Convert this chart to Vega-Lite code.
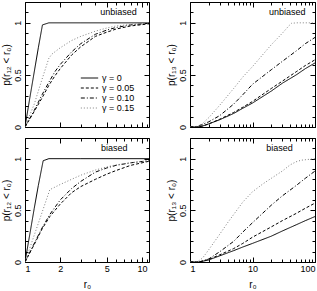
{
  "$schema": "https://vega.github.io/schema/vega-lite/v6.json",
  "padding": {"left": 0, "top": 1, "right": 1, "bottom": 0},
  "background": "white",
  "config": {
    "font": "Liberation Sans",
    "view": {"stroke": "black", "strokeWidth": 1},
    "axis": {"domain": false, "grid": false, "labelFont": "Liberation Sans", "labelFontSize": 9, "labelColor": "black", "titleFont": "Liberation Sans", "titleFontSize": 10, "titleFontWeight": "normal", "titleColor": "black", "tickColor": "black", "tickWidth": 1, "labelPadding": 7, "titlePadding": 6},
    "axisLeft": {"labelPadding": 8, "titlePadding": 2},
    "legend": {"symbolType": "stroke", "symbolSize": 300, "symbolStrokeWidth": 1, "labelFont": "Liberation Sans", "labelFontSize": 9, "labelColor": "black", "rowPadding": 0, "clipHeight": 10, "labelOffset": 3, "title": null}
  },
  "datasets": {
    "tl": [
      {"g":"0","r":1,"p":0},{"g":"0","r":1.1,"p":0.28},{"g":"0","r":1.2,"p":0.53},{"g":"0","r":1.3,"p":0.76},{"g":"0","r":1.41,"p":0.98},{"g":"0","r":1.6,"p":1},{"g":"0","r":3,"p":1},{"g":"0","r":11.5,"p":1},
      {"g":"0.05","r":1,"p":0},{"g":"0.05","r":1.2,"p":0.15},{"g":"0.05","r":1.4,"p":0.28},{"g":"0.05","r":1.6,"p":0.4},{"g":"0.05","r":1.8,"p":0.49},{"g":"0.05","r":2,"p":0.56},{"g":"0.05","r":2.5,"p":0.69},{"g":"0.05","r":3,"p":0.77},{"g":"0.05","r":4,"p":0.87},{"g":"0.05","r":5,"p":0.91},{"g":"0.05","r":6,"p":0.94},{"g":"0.05","r":8,"p":0.97},{"g":"0.05","r":11.5,"p":0.99},
      {"g":"0.10","r":1,"p":0},{"g":"0.10","r":1.2,"p":0.16},{"g":"0.10","r":1.4,"p":0.31},{"g":"0.10","r":1.6,"p":0.43},{"g":"0.10","r":1.8,"p":0.53},{"g":"0.10","r":2,"p":0.6},{"g":"0.10","r":2.5,"p":0.72},{"g":"0.10","r":3,"p":0.8},{"g":"0.10","r":4,"p":0.89},{"g":"0.10","r":5,"p":0.93},{"g":"0.10","r":6,"p":0.955},{"g":"0.10","r":8,"p":0.98},{"g":"0.10","r":11.5,"p":0.995},
      {"g":"0.15","r":1,"p":0},{"g":"0.15","r":1.2,"p":0.22},{"g":"0.15","r":1.4,"p":0.46},{"g":"0.15","r":1.6,"p":0.66},{"g":"0.15","r":1.7,"p":0.7},{"g":"0.15","r":2,"p":0.76},{"g":"0.15","r":2.5,"p":0.83},{"g":"0.15","r":3,"p":0.87},{"g":"0.15","r":4,"p":0.92},{"g":"0.15","r":5,"p":0.95},{"g":"0.15","r":6,"p":0.97},{"g":"0.15","r":8,"p":0.985},{"g":"0.15","r":11.5,"p":1}
    ],
    "bl": [
      {"g":"0","r":1,"p":0},{"g":"0","r":1.1,"p":0.27},{"g":"0","r":1.2,"p":0.52},{"g":"0","r":1.3,"p":0.74},{"g":"0","r":1.43,"p":0.98},{"g":"0","r":1.6,"p":1},{"g":"0","r":3,"p":1},{"g":"0","r":11.5,"p":1},
      {"g":"0.05","r":1,"p":0},{"g":"0.05","r":1.2,"p":0.17},{"g":"0.05","r":1.4,"p":0.32},{"g":"0.05","r":1.63,"p":0.44},{"g":"0.05","r":2,"p":0.56},{"g":"0.05","r":2.5,"p":0.67},{"g":"0.05","r":3,"p":0.73},{"g":"0.05","r":4,"p":0.8},{"g":"0.05","r":5,"p":0.85},{"g":"0.05","r":6,"p":0.885},{"g":"0.05","r":8,"p":0.935},{"g":"0.05","r":11.5,"p":0.975},
      {"g":"0.10","r":1,"p":0},{"g":"0.10","r":1.2,"p":0.18},{"g":"0.10","r":1.4,"p":0.33},{"g":"0.10","r":1.63,"p":0.46},{"g":"0.10","r":2,"p":0.6},{"g":"0.10","r":2.5,"p":0.71},{"g":"0.10","r":3,"p":0.78},{"g":"0.10","r":4,"p":0.87},{"g":"0.10","r":5,"p":0.91},{"g":"0.10","r":6,"p":0.935},{"g":"0.10","r":8,"p":0.96},{"g":"0.10","r":11.5,"p":0.98},
      {"g":"0.15","r":1,"p":0},{"g":"0.15","r":1.2,"p":0.26},{"g":"0.15","r":1.4,"p":0.48},{"g":"0.15","r":1.63,"p":0.7},{"g":"0.15","r":2,"p":0.75},{"g":"0.15","r":2.5,"p":0.8},{"g":"0.15","r":3,"p":0.84},{"g":"0.15","r":4,"p":0.89},{"g":"0.15","r":5,"p":0.92},{"g":"0.15","r":6,"p":0.94},{"g":"0.15","r":8,"p":0.96},{"g":"0.15","r":11.5,"p":0.98}
    ],
    "tr": [
      {"g":"0","r":1,"p":0},{"g":"0","r":1.3,"p":0},{"g":"0","r":1.6,"p":0.01},{"g":"0","r":2,"p":0.03},{"g":"0","r":3,"p":0.07},{"g":"0","r":5,"p":0.13},{"g":"0","r":7,"p":0.18},{"g":"0","r":10,"p":0.23},{"g":"0","r":20,"p":0.345},{"g":"0","r":30,"p":0.42},{"g":"0","r":50,"p":0.5},{"g":"0","r":70,"p":0.56},{"g":"0","r":100,"p":0.615},
      {"g":"0.05","r":1,"p":0},{"g":"0.05","r":1.3,"p":0},{"g":"0.05","r":1.6,"p":0.01},{"g":"0.05","r":2,"p":0.03},{"g":"0.05","r":3,"p":0.075},{"g":"0.05","r":5,"p":0.14},{"g":"0.05","r":7,"p":0.19},{"g":"0.05","r":10,"p":0.245},{"g":"0.05","r":20,"p":0.37},{"g":"0.05","r":30,"p":0.44},{"g":"0.05","r":50,"p":0.53},{"g":"0.05","r":70,"p":0.59},{"g":"0.05","r":100,"p":0.645},
      {"g":"0.10","r":1,"p":0},{"g":"0.10","r":1.2,"p":0},{"g":"0.10","r":1.5,"p":0.02},{"g":"0.10","r":2,"p":0.05},{"g":"0.10","r":3,"p":0.11},{"g":"0.10","r":5,"p":0.22},{"g":"0.10","r":7,"p":0.31},{"g":"0.10","r":10,"p":0.41},{"g":"0.10","r":20,"p":0.55},{"g":"0.10","r":30,"p":0.63},{"g":"0.10","r":50,"p":0.73},{"g":"0.10","r":70,"p":0.8},{"g":"0.10","r":100,"p":0.86},
      {"g":"0.15","r":1,"p":0},{"g":"0.15","r":1.3,"p":0},{"g":"0.15","r":1.5,"p":0.02},{"g":"0.15","r":2,"p":0.09},{"g":"0.15","r":3,"p":0.21},{"g":"0.15","r":5,"p":0.37},{"g":"0.15","r":7,"p":0.48},{"g":"0.15","r":10,"p":0.58},{"g":"0.15","r":20,"p":0.79},{"g":"0.15","r":30,"p":0.9},{"g":"0.15","r":38,"p":0.97},{"g":"0.15","r":42,"p":0.995},{"g":"0.15","r":50,"p":1},{"g":"0.15","r":100,"p":1}
    ],
    "br": [
      {"g":"0","r":1,"p":0},{"g":"0","r":1.4,"p":0},{"g":"0","r":2,"p":0.02},{"g":"0","r":3,"p":0.06},{"g":"0","r":5,"p":0.11},{"g":"0","r":7,"p":0.145},{"g":"0","r":10,"p":0.18},{"g":"0","r":20,"p":0.25},{"g":"0","r":30,"p":0.3},{"g":"0","r":50,"p":0.36},{"g":"0","r":70,"p":0.4},{"g":"0","r":100,"p":0.44},
      {"g":"0.05","r":1,"p":0},{"g":"0.05","r":1.4,"p":0},{"g":"0.05","r":2,"p":0.025},{"g":"0.05","r":3,"p":0.07},{"g":"0.05","r":5,"p":0.13},{"g":"0.05","r":7,"p":0.18},{"g":"0.05","r":10,"p":0.24},{"g":"0.05","r":20,"p":0.34},{"g":"0.05","r":30,"p":0.4},{"g":"0.05","r":50,"p":0.47},{"g":"0.05","r":70,"p":0.52},{"g":"0.05","r":100,"p":0.57},
      {"g":"0.10","r":1,"p":0},{"g":"0.10","r":1.4,"p":0},{"g":"0.10","r":2,"p":0.03},{"g":"0.10","r":3,"p":0.1},{"g":"0.10","r":5,"p":0.2},{"g":"0.10","r":7,"p":0.29},{"g":"0.10","r":10,"p":0.38},{"g":"0.10","r":20,"p":0.55},{"g":"0.10","r":30,"p":0.64},{"g":"0.10","r":50,"p":0.74},{"g":"0.10","r":70,"p":0.81},{"g":"0.10","r":100,"p":0.88},
      {"g":"0.15","r":1,"p":0},{"g":"0.15","r":1.3,"p":0},{"g":"0.15","r":1.6,"p":0.04},{"g":"0.15","r":2,"p":0.12},{"g":"0.15","r":3,"p":0.27},{"g":"0.15","r":4,"p":0.38},{"g":"0.15","r":5,"p":0.46},{"g":"0.15","r":7,"p":0.58},{"g":"0.15","r":10,"p":0.68},{"g":"0.15","r":15,"p":0.76},{"g":"0.15","r":20,"p":0.81},{"g":"0.15","r":30,"p":0.88},{"g":"0.15","r":40,"p":0.94},{"g":"0.15","r":50,"p":0.97},{"g":"0.15","r":60,"p":0.985},{"g":"0.15","r":100,"p":1}
    ]
  },
  "columns": 2,
  "spacing": {"row": 6, "column": 15},
  "resolve": {"scale": {"color": "independent", "strokeDash": "independent"}},
  "concat": [
    {
      "width": 124, "height": 125,
      "layer": [
        {
          "data": {"name": "tl"},
          "mark": {"type": "line", "strokeWidth": 1, "clip": true},
          "encoding": {
            "x": {"field": "r", "type": "quantitative", "scale": {"type": "log", "domain": [1, 11.5], "nice": false},
              "axis": {"orient": "bottom", "values": [1,2,3,4,5,6,7,8,9,10,11], "labels": false, "title": null,
                "tickSize": {"condition": {"test": "datum.value==1||datum.value==2||datum.value==5||datum.value==10", "value": -5}, "value": -3}}},
            "y": {"field": "p", "type": "quantitative", "scale": {"domain": [0, 1.2], "nice": false},
              "axis": {"orient": "left", "values": [0,0.1,0.2,0.3,0.4,0.5,0.6,0.7,0.8,0.9,1,1.1,1.2], "labelAngle": -90,
                "labelExpr": "datum.value==0 ? '0' : datum.value==0.5 ? '0.5' : datum.value==1 ? '1' : ''",
                "title": "p(r₁₂ < r₀)",
                "tickSize": {"condition": {"test": "datum.value==0||datum.value==0.5||datum.value==1", "value": -5}, "value": -3}}},
            "color": {"field": "g", "type": "nominal", "scale": {"domain": ["0","0.05","0.10","0.15"], "range": ["#000000","#000000","#000000","#808080"]},
              "legend": {"orient": "none", "legendX": 55, "legendY": 71, "labelExpr": "'γ = ' + datum.label"}},
            "strokeDash": {"field": "g", "type": "nominal", "scale": {"domain": ["0","0.05","0.10","0.15"], "range": [[1,0],[3,2],[4,2,1,2],[1,2]]},
              "legend": {"orient": "none", "legendX": 55, "legendY": 71, "labelExpr": "'γ = ' + datum.label"}}
          }
        },
        {
          "data": {"values": [{"t": "unbiased"}]},
          "mark": {"type": "text", "fontSize": 9, "font": "Liberation Sans", "color": "black"},
          "encoding": {
            "x": {"datum": 6.3, "type": "quantitative",
              "axis": {"orient": "top", "values": [1,2,3,4,5,6,7,8,9,10,11], "labels": false, "title": null,
                "tickSize": {"condition": {"test": "datum.value==1||datum.value==2||datum.value==5||datum.value==10", "value": -5}, "value": -3}}},
            "y": {"datum": 1.1, "type": "quantitative",
              "axis": {"orient": "right", "values": [0,0.1,0.2,0.3,0.4,0.5,0.6,0.7,0.8,0.9,1,1.1,1.2], "labels": false, "title": null,
                "tickSize": {"condition": {"test": "datum.value==0||datum.value==0.5||datum.value==1", "value": -5}, "value": -3}}},
            "text": {"field": "t"}
          }
        }
      ],
      "resolve": {"axis": {"x": "independent", "y": "independent"}}
    },
    {
      "width": 125, "height": 125,
      "layer": [
        {
          "data": {"name": "tr"},
          "mark": {"type": "line", "strokeWidth": 1, "clip": true},
          "encoding": {
            "x": {"field": "r", "type": "quantitative", "scale": {"type": "log", "domain": [1, 100], "nice": false},
              "axis": {"orient": "bottom", "values": [1,2,3,4,5,6,7,8,9,10,20,30,40,50,60,70,80,90,100], "labels": false, "title": null,
                "tickSize": {"condition": {"test": "datum.value==1||datum.value==10||datum.value==100", "value": -5}, "value": -3}}},
            "y": {"field": "p", "type": "quantitative", "scale": {"domain": [0, 1.2], "nice": false},
              "axis": {"orient": "left", "values": [0,0.1,0.2,0.3,0.4,0.5,0.6,0.7,0.8,0.9,1,1.1,1.2], "labelAngle": -90,
                "labelExpr": "datum.value==0 ? '0' : datum.value==0.5 ? '0.5' : datum.value==1 ? '1' : ''",
                "title": "p(r₁₃ < r₀)",
                "tickSize": {"condition": {"test": "datum.value==0||datum.value==0.5||datum.value==1", "value": -5}, "value": -3}}},
            "color": {"field": "g", "type": "nominal", "scale": {"domain": ["0","0.05","0.10","0.15"], "range": ["#000000","#000000","#000000","#808080"]}, "legend": null},
            "strokeDash": {"field": "g", "type": "nominal", "scale": {"domain": ["0","0.05","0.10","0.15"], "range": [[1,0],[3,2],[4,2,1,2],[1,2]]}, "legend": null}
          }
        },
        {
          "data": {"values": [{"t": "unbiased"}]},
          "mark": {"type": "text", "fontSize": 9, "font": "Liberation Sans", "color": "black"},
          "encoding": {
            "x": {"datum": 36, "type": "quantitative",
              "axis": {"orient": "top", "values": [1,2,3,4,5,6,7,8,9,10,20,30,40,50,60,70,80,90,100], "labels": false, "title": null,
                "tickSize": {"condition": {"test": "datum.value==1||datum.value==10||datum.value==100", "value": -5}, "value": -3}}},
            "y": {"datum": 1.1, "type": "quantitative",
              "axis": {"orient": "right", "values": [0,0.1,0.2,0.3,0.4,0.5,0.6,0.7,0.8,0.9,1,1.1,1.2], "labels": false, "title": null,
                "tickSize": {"condition": {"test": "datum.value==0||datum.value==0.5||datum.value==1", "value": -5}, "value": -3}}},
            "text": {"field": "t"}
          }
        }
      ],
      "resolve": {"axis": {"x": "independent", "y": "independent"}}
    },
    {
      "width": 124, "height": 124,
      "layer": [
        {
          "data": {"name": "bl"},
          "mark": {"type": "line", "strokeWidth": 1, "clip": true},
          "encoding": {
            "x": {"field": "r", "type": "quantitative", "scale": {"type": "log", "domain": [1, 11.5], "nice": false},
              "axis": {"orient": "bottom", "values": [1,2,3,4,5,6,7,8,9,10,11], "title": "r₀",
                "labelExpr": "(datum.value==1||datum.value==2||datum.value==5||datum.value==10) ? format(datum.value, 'd') : ''",
                "tickSize": {"condition": {"test": "datum.value==1||datum.value==2||datum.value==5||datum.value==10", "value": -5}, "value": -3}}},
            "y": {"field": "p", "type": "quantitative", "scale": {"domain": [0, 1.2], "nice": false},
              "axis": {"orient": "left", "values": [0,0.1,0.2,0.3,0.4,0.5,0.6,0.7,0.8,0.9,1,1.1,1.2], "labelAngle": -90,
                "labelExpr": "datum.value==0 ? '0' : datum.value==0.5 ? '0.5' : datum.value==1 ? '1' : ''",
                "title": "p(r₁₂ < r₀)",
                "tickSize": {"condition": {"test": "datum.value==0||datum.value==0.5||datum.value==1", "value": -5}, "value": -3}}},
            "color": {"field": "g", "type": "nominal", "scale": {"domain": ["0","0.05","0.10","0.15"], "range": ["#000000","#000000","#000000","#808080"]}, "legend": null},
            "strokeDash": {"field": "g", "type": "nominal", "scale": {"domain": ["0","0.05","0.10","0.15"], "range": [[1,0],[3,2],[4,2,1,2],[1,2]]}, "legend": null}
          }
        },
        {
          "data": {"values": [{"t": "biased"}]},
          "mark": {"type": "text", "fontSize": 9, "font": "Liberation Sans", "color": "black"},
          "encoding": {
            "x": {"datum": 5.8, "type": "quantitative",
              "axis": {"orient": "top", "values": [1,2,3,4,5,6,7,8,9,10,11], "labels": false, "title": null,
                "tickSize": {"condition": {"test": "datum.value==1||datum.value==2||datum.value==5||datum.value==10", "value": -5}, "value": -3}}},
            "y": {"datum": 1.1, "type": "quantitative",
              "axis": {"orient": "right", "values": [0,0.1,0.2,0.3,0.4,0.5,0.6,0.7,0.8,0.9,1,1.1,1.2], "labels": false, "title": null,
                "tickSize": {"condition": {"test": "datum.value==0||datum.value==0.5||datum.value==1", "value": -5}, "value": -3}}},
            "text": {"field": "t"}
          }
        }
      ],
      "resolve": {"axis": {"x": "independent", "y": "independent"}}
    },
    {
      "width": 125, "height": 124,
      "layer": [
        {
          "data": {"name": "br"},
          "mark": {"type": "line", "strokeWidth": 1, "clip": true},
          "encoding": {
            "x": {"field": "r", "type": "quantitative", "scale": {"type": "log", "domain": [1, 100], "nice": false},
              "axis": {"orient": "bottom", "values": [1,2,3,4,5,6,7,8,9,10,20,30,40,50,60,70,80,90,100], "title": "r₀",
                "labelExpr": "(datum.value==1||datum.value==10||datum.value==100) ? format(datum.value, 'd') : ''",
                "tickSize": {"condition": {"test": "datum.value==1||datum.value==10||datum.value==100", "value": -5}, "value": -3}}},
            "y": {"field": "p", "type": "quantitative", "scale": {"domain": [0, 1.2], "nice": false},
              "axis": {"orient": "left", "values": [0,0.1,0.2,0.3,0.4,0.5,0.6,0.7,0.8,0.9,1,1.1,1.2], "labelAngle": -90,
                "labelExpr": "datum.value==0 ? '0' : datum.value==0.5 ? '0.5' : datum.value==1 ? '1' : ''",
                "title": "p(r₁₃ < r₀)",
                "tickSize": {"condition": {"test": "datum.value==0||datum.value==0.5||datum.value==1", "value": -5}, "value": -3}}},
            "color": {"field": "g", "type": "nominal", "scale": {"domain": ["0","0.05","0.10","0.15"], "range": ["#000000","#000000","#000000","#808080"]}, "legend": null},
            "strokeDash": {"field": "g", "type": "nominal", "scale": {"domain": ["0","0.05","0.10","0.15"], "range": [[1,0],[3,2],[4,2,1,2],[1,2]]}, "legend": null}
          }
        },
        {
          "data": {"values": [{"t": "biased"}]},
          "mark": {"type": "text", "fontSize": 9, "font": "Liberation Sans", "color": "black"},
          "encoding": {
            "x": {"datum": 27, "type": "quantitative",
              "axis": {"orient": "top", "values": [1,2,3,4,5,6,7,8,9,10,20,30,40,50,60,70,80,90,100], "labels": false, "title": null,
                "tickSize": {"condition": {"test": "datum.value==1||datum.value==10||datum.value==100", "value": -5}, "value": -3}}},
            "y": {"datum": 1.1, "type": "quantitative",
              "axis": {"orient": "right", "values": [0,0.1,0.2,0.3,0.4,0.5,0.6,0.7,0.8,0.9,1,1.1,1.2], "labels": false, "title": null,
                "tickSize": {"condition": {"test": "datum.value==0||datum.value==0.5||datum.value==1", "value": -5}, "value": -3}}},
            "text": {"field": "t"}
          }
        }
      ],
      "resolve": {"axis": {"x": "independent", "y": "independent"}}
    }
  ]
}
